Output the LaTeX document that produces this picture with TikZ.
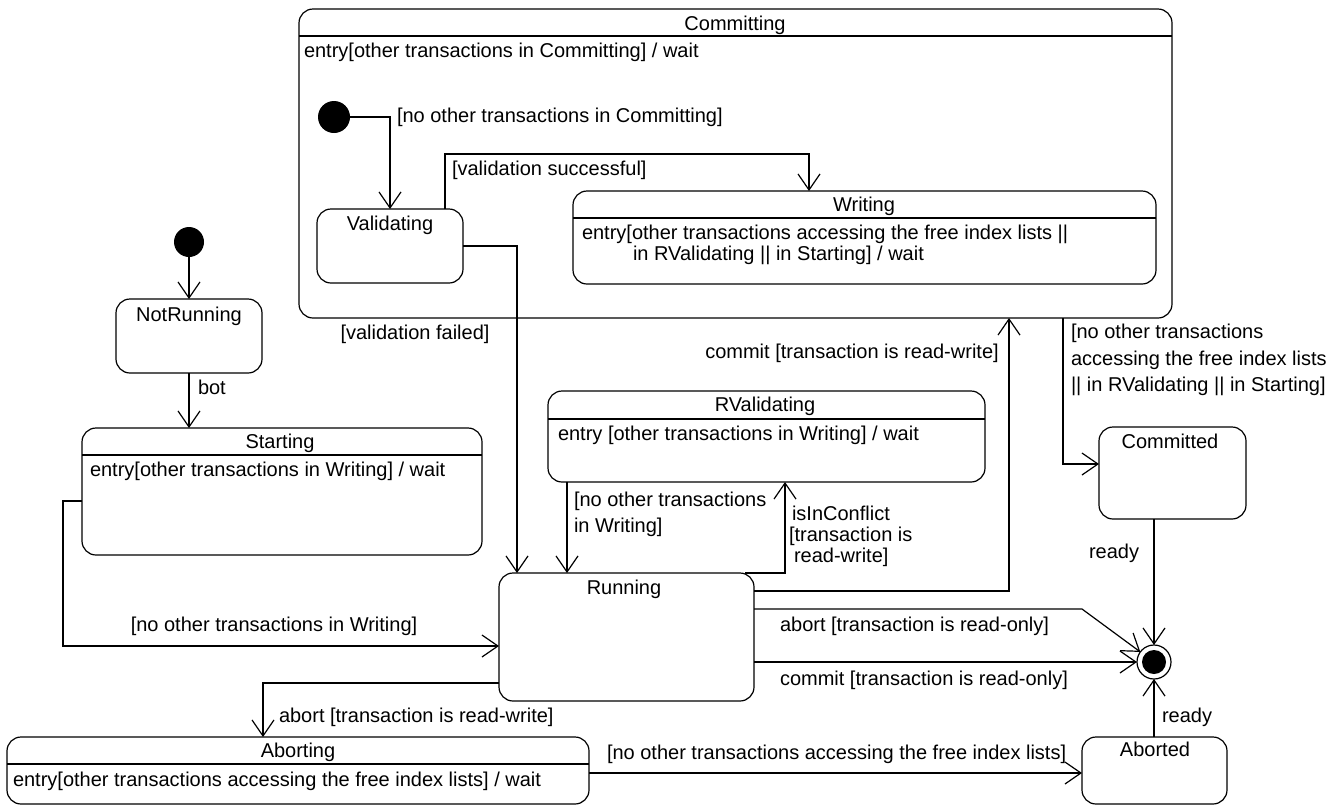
\documentclass[tikz,border=0pt]{standalone}
\usepackage{fontspec}
\setmainfont{Liberation Sans}
\usetikzlibrary{arrows.meta}
\begin{document}
\begin{tikzpicture}[x=1pt,y=-1pt,
  every node/.style={font=\fontsize{20}{24}\selectfont, inner sep=0pt, outer sep=0pt},
  state/.style={draw, line width=1.2pt, rounded corners=14pt},
  sep/.style={line width=1.2pt},
  initdot/.style={circle, fill=black, minimum size=32pt},
  tr/.style={line width=1.2pt, -{Straight Barb[length=16pt,width=22pt,line width=1.2pt]}},
  txt/.style={anchor=base},
  txtl/.style={anchor=base west},
  multi/.style={anchor=north west, align=left}]
\useasboundingbox (0,0) rectangle (1343,807);

% ---------- composite state Committing ----------
\node[state, minimum width=873pt, minimum height=309pt] (committing) at (735.5,163.5) {};
\draw[sep] (committing.west |- 0,36) -- (committing.east |- 0,36);
\node[txt] (committing-t) at (735,30) {Committing};
\node[txtl] (committing-e) at (304,57) {entry[other transactions in Committing] / wait};

\node[initdot] (init1) at (334,117) {};
\node[state, minimum width=146pt, minimum height=74pt] (validating) at (390,246) {};
\node[txt] (validating-t) at (390,230) {Validating};

\node[state, minimum width=583pt, minimum height=93pt] (writing) at (864.5,237.5) {};
\draw[sep] (writing.west |- 0,218) -- (writing.east |- 0,218);
\node[txt] (writing-t) at (864,211) {Writing};
\node[txtl] (writing-e1) at (582,239) {entry[other transactions accessing the free index lists ||};
\node[txtl] (writing-e2) at (633,260) {in RValidating || in Starting] / wait};

% ---------- left column ----------
\node[initdot, minimum size=30pt] (init0) at (189,242) {};
\node[state, minimum width=146pt, minimum height=74pt] (notrunning) at (189,336) {};
\node[txt] (notrunning-t) at (189,321) {NotRunning};

\node[state, minimum width=400pt, minimum height=127pt] (starting) at (282,491.5) {};
\draw[sep] (starting.west |- 0,455) -- (starting.east |- 0,455);
\node[txt] (starting-t) at (280,448) {Starting};
\node[txtl] (starting-e) at (90,476) {entry[other transactions in Writing] / wait};

% ---------- middle ----------
\node[state, minimum width=437pt, minimum height=91pt] (rvalidating) at (766.5,436.5) {};
\draw[sep] (rvalidating.west |- 0,419) -- (rvalidating.east |- 0,419);
\node[txt] (rvalidating-t) at (765,411) {RValidating};
\node[txtl] (rvalidating-e) at (558,440) {entry [other transactions in Writing] / wait};

\node[state, minimum width=255pt, minimum height=128pt] (running) at (626.5,637) {};
\node[txt] (running-t) at (624,594) {Running};

% ---------- right column ----------
\node[state, minimum width=147pt, minimum height=92pt] (committed) at (1172.5,473) {};
\node[txt] (committed-t) at (1170,448) {Committed};

\node[circle, draw, line width=1.2pt, minimum size=34pt] (final) at (1154,662) {};
\node[circle, fill=black, minimum size=24pt] (finaldot) at (final) {};

\node[state, minimum width=145pt, minimum height=67pt] (aborted) at (1154.5,770.5) {};
\node[txt] (aborted-t) at (1155,756) {Aborted};

% ---------- bottom ----------
\node[state, minimum width=582pt, minimum height=67pt] (aborting) at (298,770.5) {};
\draw[sep] (aborting.west |- 0,764) -- (aborting.east |- 0,764);
\node[txt] (aborting-t) at (298,757) {Aborting};
\node[txtl] (aborting-e) at (13,786) {entry[other transactions accessing the free index lists] / wait};

% ---------- transitions ----------
\draw[tr] (init1.east) -| (validating.north);
\node[txtl] (l-init1) at (397,122) {[no other transactions in Committing]};

\coordinate (vsucc) at (445,154);
\draw[tr] (validating.north -| vsucc) -- (vsucc) -| (writing.north -| 809,0);
\node[txtl] (l-vsucc) at (452,175) {[validation successful]};

\draw[tr] (validating.east) -| (running.north -| 517,0);
\node[txt] (l-vfail) at (415,339) {[validation failed]};

\draw[tr] (init0) -- (notrunning.north);
\draw[tr] (notrunning.south) -- (notrunning.south |- starting.north);
\node[txtl] (l-bot) at (198,394) {bot};

\coordinate (srun) at (63,501);
\draw[tr] (starting.west |- srun) -- (srun) |- (running.west |- 0,646);
\node[txt] (l-srun) at (274,631) {[no other transactions in Writing]};

\draw[tr] (rvalidating.south -| 567,0) -- (running.north -| 567,0);
\node[multi, font=\fontsize{20}{26}\selectfont] (l-rvrun) at (574,492) {[no other transactions\\in Writing]};

\draw[tr] (running.north -| 745,0) -| (rvalidating.south -| 785,0);
\node[multi, font=\fontsize{20}{21}\selectfont] (l-conf) at (789,506)
  {\hspace*{3pt}isInConflict\\{[}transaction is\\\hspace*{5pt}read-write]};

\draw[tr] (running.east |- 0,591) -| (committing.south -| 1009,0);
\node[txt] (l-commitrw) at (852,358) {commit [transaction is read-write]};

\coordinate (abend) at (1082,609);
\draw[tr] (running.east |- abend) -- (abend) -- (final);
\node[txtl] (l-abortro) at (780,631) {abort [transaction is read-only]};

\draw[tr] (running.east |- final.west) -- (final.west);
\node[txtl] (l-commitro) at (780,685) {commit [transaction is read-only]};

\draw[tr] (committing.south -| 1063,0) |- (committed.west |- 0,464);
\node[multi, font=\fontsize{20}{26.5}\selectfont] (l-commit) at (1071,324)
  {[no other transactions\\accessing the free index lists\\|| in RValidating || in Starting]};

\draw[tr] (committed.south -| final.north) -- (final.north);
\node[txt] (l-ready1) at (1114,558) {ready};

\draw[tr] (aborted.north -| final.south) -- (final.south);
\node[txtl] (l-ready2) at (1162,722) {ready};

\draw[tr] (running.west |- 0,683) -| (aborting.north -| 263,0);
\node[txtl] (l-abortrw) at (279,722) {abort [transaction is read-write]};

\draw[tr] (aborting.east |- 0,773) -- (aborted.west |- 0,773);
\node[txtl] (l-abort) at (607,759) {[no other transactions accessing the free index lists]};
\end{tikzpicture}
\end{document}
